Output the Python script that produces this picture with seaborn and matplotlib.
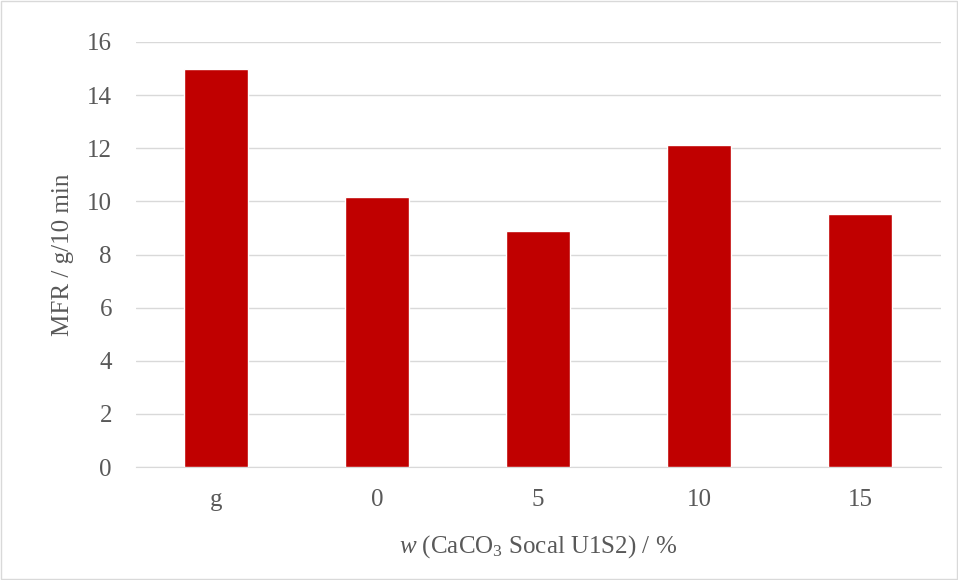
import pandas as pd
import matplotlib
matplotlib.use('Agg')
import matplotlib.pyplot as plt
import seaborn as sns

categories = ['g', '0', '5', '10', '15']
mfr = [15.0, 10.15, 8.88, 12.12, 9.51]

df = pd.DataFrame({'sample': categories, 'mfr': mfr})

sns.set_style('white')
plt.rcParams['font.family'] = ['Liberation Serif', 'DejaVu Serif']
plt.rcParams['mathtext.fontset'] = 'custom'
plt.rcParams['mathtext.rm'] = 'Liberation Serif'
plt.rcParams['mathtext.it'] = 'Liberation Serif:italic'

fig = plt.figure(figsize=(9.58, 5.8), dpi=100)
ax = fig.add_axes([135.5 / 958, 1 - 467 / 580, 805 / 958, 425 / 580])

sns.barplot(data=df, x='sample', y='mfr', color='#C00000', saturation=1,
            width=0.4, ax=ax, zorder=3)

ax.set_ylim(0, 16)
ax.set_yticks(range(0, 17, 2))
ax.set_xlim(-0.5, 4.5)
ax.grid(axis='y', color='#D9D9D9', linewidth=1, zorder=0)
for s in ['top', 'right', 'left']:
    ax.spines[s].set_visible(False)
ax.spines['bottom'].set_color('#D9D9D9')
ax.tick_params(axis='both', length=0, labelsize=18, labelcolor='#595959')
ax.tick_params(axis='y', pad=17)
ax.tick_params(axis='x', pad=16)
ax.set_ylabel('MFR / g/10 min', fontsize=18, color='#595959', labelpad=9)
ax.set_xlabel(r'$\mathit{w}$ (CaCO$_3$ Socal U1S2) / %', fontsize=18,
              color='#595959', labelpad=16)

fig.patches.append(plt.Rectangle((0.001, 0.001), 0.998, 0.998, transform=fig.transFigure,
                                 fill=False, edgecolor='#D9D9D9', linewidth=1))

fig.savefig('out.png', dpi=100)
